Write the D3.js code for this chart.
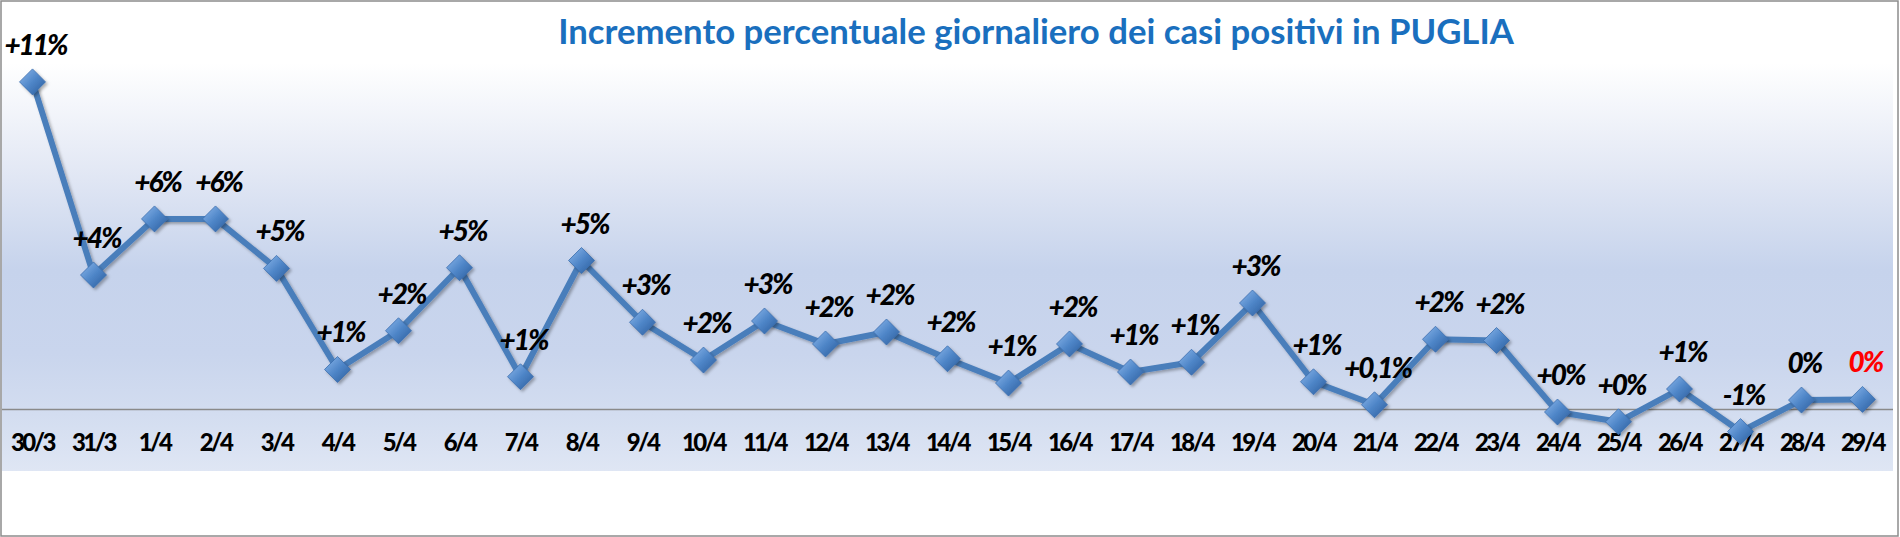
<!DOCTYPE html>
<html lang="it">
	<head>
		<meta charset="UTF-8" />
		<title>Incremento percentuale giornaliero - Puglia</title>
		<script src="https://d3js.org/d3.v7.min.js"></script>
		<style>
			body { margin: 0; background: #fff; }
			text { font-family: Lato, 'Open Sans', sans-serif; }
		</style>
	</head>
	<body>
		<svg width="1900" height="537"></svg>

		<script>
			const categories = ['30/3', '31/3', '1/4', '2/4', '3/4', '4/4', '5/4', '6/4', '7/4', '8/4', '9/4', '10/4', '11/4', '12/4', '13/4', '14/4', '15/4', '16/4', '17/4', '18/4', '19/4', '20/4', '21/4', '22/4', '23/4', '24/4', '25/4', '26/4', '27/4', '28/4', '29/4'];
			const values = [10.4, 4.27, 6.05, 6.05, 4.48, 1.27, 2.5, 4.5, 1.04, 4.73, 2.77, 1.57, 2.81, 2.08, 2.46, 1.61, 0.84, 2.08, 1.19, 1.5, 3.38, 0.88, 0.15, 2.23, 2.19, -0.08, -0.39, 0.65, -0.7, 0.3, 0.32];
			const labels = ['+11%', '+4%', '+6%', '+6%', '+5%', '+1%', '+2%', '+5%', '+1%', '+5%', '+3%', '+2%', '+3%', '+2%', '+2%', '+2%', '+1%', '+2%', '+1%', '+1%', '+3%', '+1%', '+0,1%', '+2%', '+2%', '+0%', '+0%', '+1%', '-1%', '0%', '0%'];
			const title = 'Incremento percentuale giornaliero dei casi positivi in PUGLIA';

			const svg = d3.select('svg');
			const width = +svg.attr('width');
			const height = +svg.attr('height');

			const plot = { left: 2, right: 1893, top: 2, bottom: 471 };

			const defs = svg.append('defs');

			// plot area background, white to light blue
			const bg = defs.append('linearGradient').attr('id', 'bg').attr('x1', 0).attr('y1', 0).attr('x2', 0).attr('y2', 1);
			[
				[0, '#ffffff'],
				[0.13, '#ffffff'],
				[0.35, '#e4e9f5'],
				[0.57, '#c6d3ec'],
				[0.75, '#c9d5ed'],
				[0.88, '#d3ddf0'],
				[1, '#dfe6f4']
			].forEach(s => bg.append('stop').attr('offset', s[0]).attr('stop-color', s[1]));

			const mk = defs.append('linearGradient').attr('id', 'mk').attr('x1', 0).attr('y1', 0).attr('x2', 1).attr('y2', 1);
			mk.append('stop').attr('offset', 0).attr('stop-color', '#8db8ec');
			mk.append('stop').attr('offset', 0.5).attr('stop-color', '#4f86c8');
			mk.append('stop').attr('offset', 1).attr('stop-color', '#2a5b9b');

			const shadow = defs.append('filter').attr('id', 'shadow').attr('x', '-20%').attr('y', '-20%').attr('width', '150%').attr('height', '150%');
			shadow.append('feDropShadow').attr('dx', 2).attr('dy', 2).attr('stdDeviation', 1.5).attr('flood-color', '#000').attr('flood-opacity', 0.3);

			svg.append('rect')
				.attr('x', plot.left)
				.attr('y', plot.top)
				.attr('width', plot.right - plot.left)
				.attr('height', plot.bottom - plot.top)
				.style('fill', 'url(#bg)');

			svg.append('rect')
				.attr('x', 1)
				.attr('y', 1)
				.attr('width', width - 3)
				.attr('height', height - 2)
				.style('fill', 'none')
				.style('stroke', '#8c8c8c')
				.style('stroke-width', 1.5);

			const x = d3.scaleBand().domain(categories).range([plot.left, plot.right]).padding(0);
			const y = d3.scaleLinear().domain([0, 10]).range([409.5, 94.5]);
			const cx = d => x(d) + x.bandwidth() / 2;

			// zero line
			svg.append('line')
				.attr('x1', plot.left)
				.attr('x2', plot.right)
				.attr('y1', y(0))
				.attr('y2', y(0))
				.style('stroke', '#8a8a8a')
				.style('stroke-width', 1.5);

			// category labels
			const xAxis = d3.axisBottom(x).tickSize(0).tickPadding(0);
			const gx = svg.append('g').attr('transform', `translate(0,${451})`).call(xAxis);
			gx.select('.domain').remove();
			gx.selectAll('text')
				.attr('dy', 0)
				.attr('y', 0)
				.style('font-family', 'Lato, sans-serif')
				.style('font-size', '24px')
				.style('font-weight', 900)
				.style('letter-spacing', '-2.5px')
				.style('fill', '#000');

			const points = categories.map((c, i) => ({ c, v: values[i], label: labels[i], i }));

			const line = d3.line().x(d => cx(d.c)).y(d => y(d.v));

			svg.append('path')
				.datum(points)
				.attr('d', line)
				.attr('filter', 'url(#shadow)')
				.style('fill', 'none')
				.style('stroke', '#4a7ebb')
				.style('stroke-width', 6)
				.style('stroke-linejoin', 'round');

			const r = 13;
			svg.selectAll('.marker')
				.data(points)
				.enter()
				.append('path')
				.attr('class', 'marker')
				.attr('d', `M0,${-r}L${r},0L0,${r}L${-r},0Z`)
				.attr('transform', d => `translate(${cx(d.c)},${y(d.v)})`)
				.attr('filter', 'url(#shadow)')
				.style('fill', 'url(#mk)')
				.style('stroke', '#3c6eae')
				.style('stroke-width', 0.8);

			svg.selectAll('.dlabel')
				.data(points)
				.enter()
				.append('text')
				.attr('class', 'dlabel')
				.attr('x', d => cx(d.c) + 3)
				.attr('y', d => y(d.v) - 27)
				.attr('text-anchor', 'middle')
				.style('font-size', '28px')
				.style('font-weight', 900)
				.style('font-style', 'italic')
				.style('letter-spacing', '-2px')
				.style('fill', d => (d.i === points.length - 1 ? '#ff0000' : '#000'))
				.text(d => d.label);

			const t = svg.append('text')
				.attr('x', 1036)
				.attr('y', 44)
				.attr('text-anchor', 'middle')
				.style('font-size', '30px')
				.style('font-weight', 'bold')
				.style('fill', '#1a6fbe')
				.text(title);
			// fit the title to its width in the picture
			const tw = t.node().getComputedTextLength();
			t.style('font-size', (30 * 956) / tw + 'px');
		</script>
	</body>
</html>
